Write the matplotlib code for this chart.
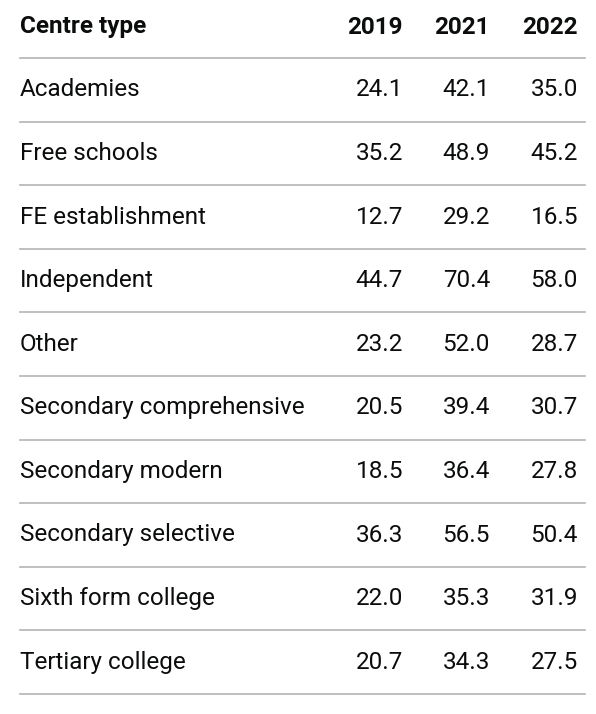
import matplotlib
matplotlib.use("Agg")
import matplotlib.pyplot as plt

header = ["Centre type", "2019", "2021", "2022"]
categories = ["Academies", "Free schools", "FE establishment", "Independent", "Other",
              "Secondary comprehensive", "Secondary modern", "Secondary selective",
              "Sixth form college", "Tertiary college"]
v2019 = [24.1, 35.2, 12.7, 44.7, 23.2, 20.5, 18.5, 36.3, 22.0, 20.7]
v2021 = [42.1, 48.9, 29.2, 70.4, 52.0, 39.4, 36.4, 56.5, 35.3, 34.3]
v2022 = [35.0, 45.2, 16.5, 58.0, 28.7, 30.7, 27.8, 50.4, 31.9, 27.5]

W, H = 596, 714
fig = plt.figure(figsize=(W/100, H/100), dpi=100)
ax = fig.add_axes([0, 0, 1, 1])
ax.set_xlim(0, W); ax.set_ylim(H, 0); ax.axis("off")
font = "Roboto"
fs = 17.5
colx = [403, 490, 578]
ax.text(20, 27, header[0], fontsize=fs, fontweight="bold", family=font, va="center", color="#0b0c0c")
for x, h in zip(colx, header[1:]):
    ax.text(x, 27, h, fontsize=fs, fontweight="bold", family=font, va="center", ha="right", color="#0b0c0c")
top = 58; step = 63.6
ax.plot([20, 585], [top, top], color="#b1b4b6", lw=1.2)
for i, c in enumerate(categories):
    yc = top + step*i + step/2
    ax.text(20, yc, c, fontsize=fs, family=font, va="center", color="#0b0c0c")
    for x, v in zip(colx, (v2019[i], v2021[i], v2022[i])):
        ax.text(x, yc, f"{v:.1f}", fontsize=fs, family=font, va="center", ha="right", color="#0b0c0c")
    yl = top + step*(i+1)
    ax.plot([20, 585], [yl, yl], color="#b1b4b6", lw=1.2)
fig.savefig("out.png", dpi=100, facecolor="white")
